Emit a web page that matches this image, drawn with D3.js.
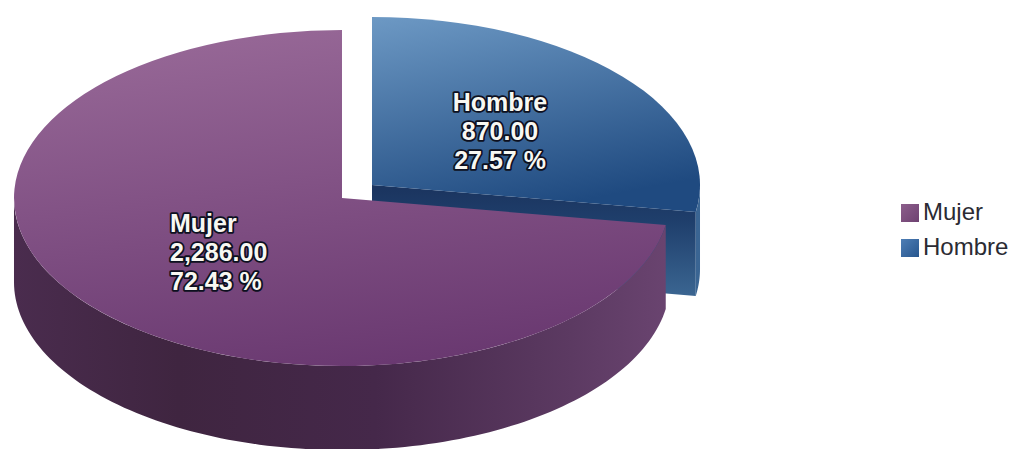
<!DOCTYPE html>
<html>
<head>
<meta charset="utf-8">
<script src="https://cdn.jsdelivr.net/npm/d3@7/dist/d3.min.js"></script>
<style>
  html, body { margin: 0; padding: 0; background: #fff; }
  svg { display: block; }
  text { font-family: "Liberation Sans", Arial, sans-serif; }
</style>
</head>
<body>
<svg id="chart" width="1011" height="449"></svg>
<script>
// Slices in drawing order: the back slice first, the front slice over it.
const categories = ["Hombre", "Mujer"];
const values = [870, 2286];
const legendOrder = ["Mujer", "Hombre"];

const topColors = { Hombre: ["#6f9bc6", "#1f4a80"], Mujer: ["#966796", "#693870"] };
// Gradient vectors in the unit-circle space of each top surface.
const topVectors = {
  Hombre: { x1: -0.1, y1: -1, x2: 0.35, y2: 0.2 },
  Mujer: { x1: -0.25, y1: -1, x2: 0.25, y2: 1 }
};
const rimStops = {
  Hombre: [[0, "#2c5488"], [1, "#3a6593"]],
  Mujer: [[0, "#4a2c4e"], [0.25, "#3f2540"], [0.55, "#45284a"], [0.85, "#5c3a62"], [1, "#6a4470"]]
};
const swatchColors = { Mujer: ["#8d5f8c", "#6f4272"], Hombre: ["#4f7fb6", "#28578f"] };

const W = 1011, H = 449;
const cx = 357, cy = 191.5, rx = 328, ry = 168, depth = 84, explode = 19.7;

const svg = d3.select("#chart").attr("viewBox", [0, 0, W, H]);
const defs = svg.append("defs");
const total = d3.sum(values);
const fmtValue = d3.format(",.2f");
const fmtPct = d3.format(".2f");

const pie = d3.pie().sort(null).value(d => d.value);
const slices = pie(categories.map((name, i) => ({ name, value: values[i] })));

function addGradient(id, attrs, stops) {
  const g = defs.append("linearGradient").attr("id", id).attr("gradientUnits", "userSpaceOnUse");
  Object.entries(attrs).forEach(([k, v]) => g.attr(k, v));
  stops.forEach(([o, c]) => g.append("stop").attr("offset", o).attr("stop-color", c));
}

// Unit-radius arc; the squash into an ellipse is done by the path transform.
const unitArc = d3.arc().innerRadius(0).outerRadius(1);

// Point on the ellipse rim for a pie angle (0 = up, clockwise).
const rimX = a => rx * Math.sin(a);
const rimY = a => -ry * Math.cos(a);
const sideArea = d3.area().x(a => rimX(a)).y0(a => rimY(a)).y1(a => rimY(a) + depth);

slices.forEach(s => {
  const name = s.data.name;
  const mid = (s.startAngle + s.endAngle) / 2;
  // Pull each slice outward along its mid angle, flattened like the ellipse.
  const ox = cx + explode * Math.sin(mid);
  const oy = cy - explode * (ry / rx) * Math.cos(mid);
  const g = svg.append("g").attr("class", "slice").attr("transform", `translate(${ox},${oy})`);

  addGradient(`top-${name}`, topVectors[name], [[0, topColors[name][0]], [1, topColors[name][1]]]);
  addGradient(`rim-${name}`, { x1: -rx, y1: 0, x2: rx, y2: 0 }, rimStops[name]);

  // Cut face, visible only on the back slice.
  if (name === "Hombre") {
    addGradient("cut-Hombre", { x1: 0, y1: 5, x2: 0, y2: 112 },
      [[0, "#1b3560"], [0.3, "#1f3f6c"], [1, "#3b6692"]]);
    const a = s.endAngle;
    const cut = d3.path();
    cut.moveTo(0, 0);
    cut.lineTo(rimX(a), rimY(a));
    cut.lineTo(rimX(a), rimY(a) + depth);
    cut.lineTo(0, depth);
    cut.closePath();
    g.append("path").attr("d", cut.toString()).attr("fill", "url(#cut-Hombre)");
  }

  // Outer wall: only the part of the rim facing the viewer.
  const a0 = Math.max(s.startAngle, Math.PI / 2);
  const a1 = Math.min(s.endAngle, 3 * Math.PI / 2);
  if (a1 > a0) {
    const angles = d3.range(0, 121).map(i => a0 + (a1 - a0) * i / 120);
    g.append("path").attr("d", sideArea(angles)).attr("fill", `url(#rim-${name})`);
  }

  // Top surface.
  g.append("path")
    .attr("d", unitArc(s))
    .attr("transform", `scale(${rx},${ry})`)
    .attr("fill", `url(#top-${name})`);
});

// Slice labels sit above all the geometry.
const labelPos = { Hombre: { x: 500, y: 111, anchor: "middle" }, Mujer: { x: 170, y: 232, anchor: "start" } };
slices.forEach(s => {
  const name = s.data.name;
  const lines = [name, fmtValue(s.data.value), fmtPct(s.data.value / total * 100) + " %"];
  const pos = labelPos[name];
  const t = svg.append("g").attr("class", "label");
  t.selectAll("text").data(lines).join("text")
    .attr("x", pos.x)
    .attr("y", (d, i) => pos.y + i * 29.2)
    .attr("text-anchor", pos.anchor)
    .attr("font-size", 25)
    .attr("font-weight", 700)
    .attr("fill", "#f8f8f2")
    .attr("stroke", "#0d1020")
    .attr("stroke-width", 3.6)
    .attr("stroke-linejoin", "round")
    .attr("paint-order", "stroke")
    .text(d => d);
});

// Legend on the right.
const legendY = d3.scalePoint().domain(legendOrder).range([204, 239]);
legendOrder.forEach(name => {
  const y = legendY(name);
  addGradient(`swatch-${name}`, { x1: 900, y1: y, x2: 918, y2: y + 18 },
    [[0, swatchColors[name][0]], [1, swatchColors[name][1]]]);
  const g = svg.append("g").attr("class", "legend-item");
  g.append("rect").attr("x", 901).attr("y", y).attr("width", 18).attr("height", 18)
    .attr("fill", `url(#swatch-${name})`);
  g.append("text").attr("x", 923).attr("y", y + 16)
    .attr("font-size", 24).attr("fill", "#2b2b33").text(name);
});
</script>
</body>
</html>
